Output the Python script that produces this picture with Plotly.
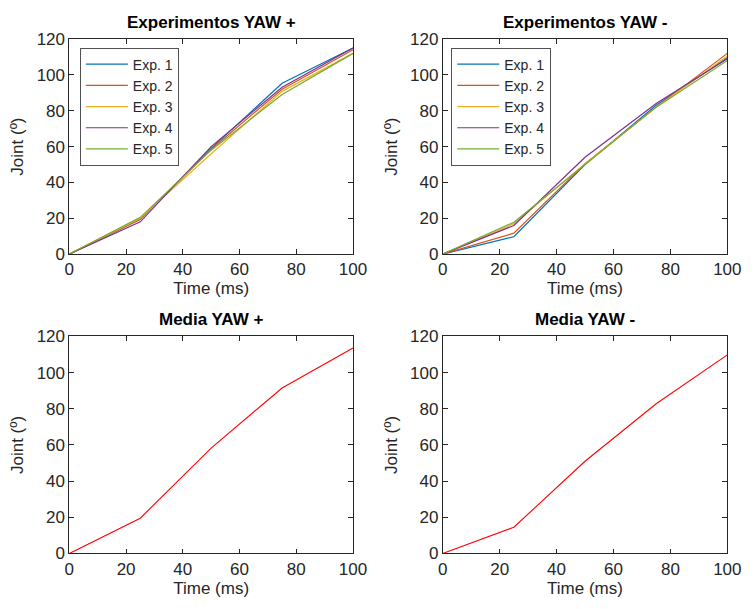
import plotly.graph_objects as go

time_ms = [0, 25, 50, 75, 100]
exp_names = ["Exp. 1", "Exp. 2", "Exp. 3", "Exp. 4", "Exp. 5"]

yaw_plus_exp1 = [0, 19.5, 59.0, 95.3, 115.0]
yaw_plus_exp2 = [0, 19.5, 58.5, 92.0, 114.0]
yaw_plus_exp3 = [0, 20.0, 56.0, 90.8, 112.0]
yaw_plus_exp4 = [0, 18.0, 60.0, 93.1, 115.0]
yaw_plus_exp5 = [0, 20.5, 58.0, 89.0, 112.0]

yaw_minus_exp1 = [0, 9.7, 50.0, 83.0, 109.5]
yaw_minus_exp2 = [0, 11.7, 50.5, 82.0, 112.0]
yaw_minus_exp3 = [0, 17.0, 50.5, 82.0, 110.5]
yaw_minus_exp4 = [0, 16.0, 54.0, 84.0, 109.0]
yaw_minus_exp5 = [0, 17.8, 50.0, 82.0, 108.0]

media_yaw_plus = [0, 19.5, 58.3, 91.5, 113.6]
media_yaw_minus = [0, 14.5, 51.0, 82.8, 109.8]

titles = ["Experimentos YAW +", "Experimentos YAW -", "Media YAW +", "Media YAW -"]
x_ticks = [0, 20, 40, 60, 80, 100]
y_ticks = [0, 20, 40, 60, 80, 100, 120]

colors = ["#0072BD", "#D95319", "#EDB120", "#7E2F8E", "#77AC30"]

W, H = 755, 609
FONT = "Liberation Sans, Arial, Helvetica, sans-serif"

# pixel boxes for the four axes (left, right, top, bottom)
boxes = [(66, 357, 31, 253), (449, 741, 31, 253), (66, 357, 338, 562), (449, 741, 338, 562)]

fig = go.Figure()

plus_sets = [yaw_plus_exp1, yaw_plus_exp2, yaw_plus_exp3, yaw_plus_exp4, yaw_plus_exp5]
minus_sets = [yaw_minus_exp1, yaw_minus_exp2, yaw_minus_exp3, yaw_minus_exp4, yaw_minus_exp5]

for i, (name, ys) in enumerate(zip(exp_names, plus_sets)):
    fig.add_trace(go.Scatter(x=time_ms, y=ys, mode="lines", name=name,
                             line=dict(color=colors[i], width=1.2),
                             xaxis="x", yaxis="y", legend="legend"))
for i, (name, ys) in enumerate(zip(exp_names, minus_sets)):
    fig.add_trace(go.Scatter(x=time_ms, y=ys, mode="lines", name=name,
                             line=dict(color=colors[i], width=1.2),
                             xaxis="x2", yaxis="y2", legend="legend2"))
fig.add_trace(go.Scatter(x=time_ms, y=media_yaw_plus, mode="lines", showlegend=False,
                         line=dict(color="#FF0000", width=1.1), xaxis="x3", yaxis="y3"))
fig.add_trace(go.Scatter(x=time_ms, y=media_yaw_minus, mode="lines", showlegend=False,
                         line=dict(color="#FF0000", width=1.1), xaxis="x4", yaxis="y4"))

layout = dict(
    width=W, height=H,
    margin=dict(l=0, r=0, t=0, b=0),
    paper_bgcolor="white", plot_bgcolor="white",
    font=dict(family=FONT, size=17, color="#262626"),
    annotations=[],
)

for k, (l, r, t, b) in enumerate(boxes):
    sfx = "" if k == 0 else str(k + 1)
    xd = [l / W, r / W]
    yd = [1 - b / H, 1 - t / H]
    axcommon = dict(showline=True, linecolor="#262626", linewidth=0.8, mirror="ticks",
                    ticks="inside", ticklen=5, tickwidth=0.8, tickcolor="#262626",
                    showgrid=False, zeroline=False, tickfont=dict(size=17, color="#262626"))
    layout["xaxis" + sfx] = dict(domain=xd, range=[0, 100], tickvals=x_ticks,
                                 anchor="y" + sfx,
                                 title=dict(text="Time (ms)", standoff=2, font=dict(size=17)),
                                 **axcommon)
    layout["yaxis" + sfx] = dict(domain=yd, range=[0, 120], tickvals=y_ticks,
                                 anchor="x" + sfx,
                                 title=dict(text="Joint (º)", standoff=8, font=dict(size=17)),
                                 **axcommon)
    layout["annotations"].append(dict(
        text="<b>" + titles[k] + "</b>", x=(l + r) / 2 / W, y=1 - (t - 17) / H,
        xref="paper", yref="paper", xanchor="center", yanchor="middle",
        showarrow=False, font=dict(size=17, color="black")))

legend_common = dict(bordercolor="#262626", borderwidth=0.8, bgcolor="white",
                     font=dict(size=14, color="#262626"), xanchor="left", yanchor="top",
                     tracegroupgap=0, itemwidth=42)
layout["legend"] = dict(x=77 / W, y=1 - 40 / H, **legend_common)
layout["legend2"] = dict(x=458 / W, y=1 - 40 / H, **legend_common)

fig.update_layout(**layout)
fig.write_html("out.html")
